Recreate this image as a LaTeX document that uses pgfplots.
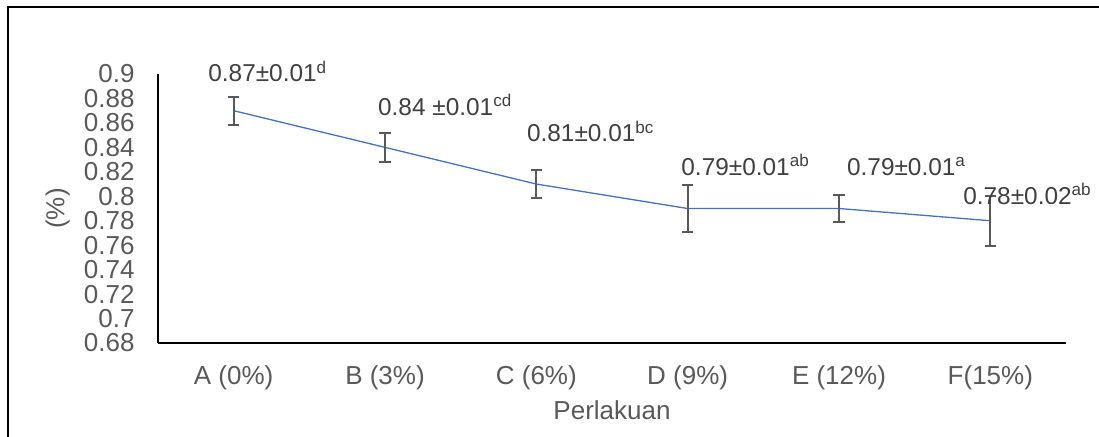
\documentclass[border=0pt]{standalone}
\usepackage{pgfplots}
\pgfplotsset{compat=1.18}
\usepackage{fontspec}
\setmainfont{Liberation Sans}
\definecolor{tickgray}{HTML}{595959}
\definecolor{labgray}{HTML}{404040}
\definecolor{lineblue}{HTML}{4472C4}
\begin{document}
\begin{tikzpicture}
\path[use as bounding box] (0,0) rectangle (549.5pt,218pt);
\draw[line width=0.8pt,black] (4pt,-10pt) -- (4pt,214.5pt) -- (560pt,214.5pt);
\begin{axis}[
  at={(79pt,46.5pt)}, anchor=south west,
  scale only axis, width=454pt, height=134.5pt,
  xmin=-0.5, xmax=5.5, ymin=0.68, ymax=0.9,
  axis x line*=bottom, axis y line*=left,
  axis line style={-, line width=0.7pt, black},
  xtick={0,1,2,3,4,5},
  xticklabels={A (0\%),B (3\%),C (6\%),D (9\%),E (12\%),F(15\%)},
  ytick={0.68,0.70,...,0.901},
  yticklabels={0.68,0.7,0.72,0.74,0.76,0.78,0.8,0.82,0.84,0.86,0.88,0.9},
  major tick length=0pt,
  tick label style={font=\fontsize{13}{15}\selectfont, text=tickgray, inner sep=0pt},
  xticklabel style={anchor=base, yshift=-20.5pt},
  yticklabel style={anchor=east, xshift=-11.5pt},
  xlabel={Perlakuan}, ylabel={(\%)},
  label style={font=\fontsize{13}{15}\selectfont, text=tickgray},
  xlabel style={at={(axis description cs:0.5,-0.2836)}, anchor=base, inner sep=0pt},
  ylabel style={at={(axis description cs:-0.1105,0.5)}, anchor=center, inner sep=0pt},
  clip=false,
]
\addplot[color=lineblue, line width=0.65pt, mark=none,
  error bars/.cd, y dir=both, y explicit,
  error bar style={color=tickgray, line width=1pt},
  error mark options={rotate=90, mark size=2.9pt, line width=1pt, color=tickgray}]
  coordinates {
  (0,0.87) +- (0,0.0115)
  (1,0.84) +- (0,0.0117)
  (2,0.81) +- (0,0.0113)
  (3,0.79) +- (0,0.0195)
  (4,0.79) +- (0,0.011)
  (5,0.78) +- (0,0.0205)
  };
\begin{scope}[every node/.style={anchor=base west, inner sep=0pt, text=labgray, font=\fontsize{12.2}{14}\selectfont}]
\node at (axis cs:-0.170,0.8935) {0.87±0.01\textsuperscript{d}};
\node at (axis cs:0.952,0.8659) {0.84 ±0.01\textsuperscript{cd}};
\node at (axis cs:1.936,0.8446) {0.81±0.01\textsuperscript{bc}};
\node at (axis cs:2.956,0.8174) {0.79±0.01\textsuperscript{ab}};
\node at (axis cs:4.051,0.8174) {0.79±0.01\textsuperscript{a}};
\node at (axis cs:4.819,0.7934) {0.78±0.02\textsuperscript{ab}};
\end{scope}
\end{axis}
\end{tikzpicture}
\end{document}
